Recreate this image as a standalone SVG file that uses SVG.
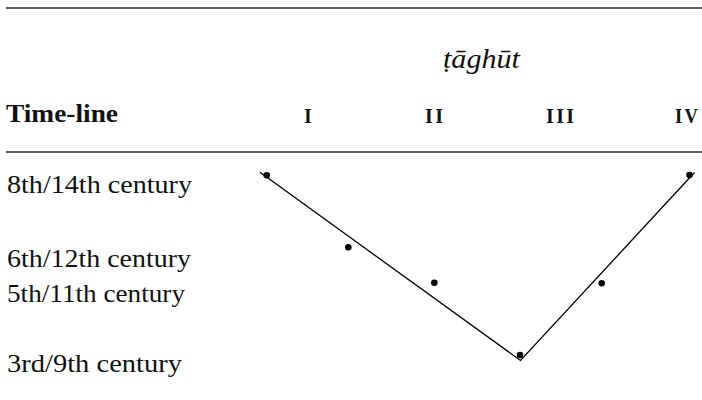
<svg xmlns="http://www.w3.org/2000/svg" width="702" height="400" viewBox="0 0 702 400">
  <style>
    .rule { stroke: #2a2a2a; stroke-width: 1.4; }
    .row { font-family: "Liberation Serif", "Times New Roman", serif; font-size: 26px; fill: #111; }
    .head { font-family: "Liberation Serif", "Times New Roman", serif; font-weight: bold; fill: #111; }
    .num { font-size: 20px; letter-spacing: 2.4px; }
    .title { font-family: "Liberation Serif", "Times New Roman", serif; font-style: italic; font-size: 27px; fill: #111; }
    .trend { fill: none; stroke: #000; stroke-width: 1.3; stroke-linejoin: miter; }
    .pt { fill: #000; }
  </style>

  <!-- table rules -->
  <line class="rule" x1="6" y1="8" x2="702" y2="8"/>
  <line class="rule" x1="6" y1="152" x2="702" y2="152"/>

  <!-- column headings -->
  <g id="header">
    <text class="title" x="443" y="68" textLength="77" lengthAdjust="spacingAndGlyphs">ṭāghūt</text>
    <text class="head" x="6" y="122" font-size="26" textLength="112" lengthAdjust="spacingAndGlyphs">Time-line</text>
    <text class="head num" x="304" y="122.5">I</text>
    <text class="head num" x="425" y="122.5">II</text>
    <text class="head num" x="546" y="122.5">III</text>
    <text class="head num" x="675" y="122.5" textLength="25" lengthAdjust="spacingAndGlyphs">IV</text>
  </g>

  <!-- time-line rows -->
  <g id="row-8th">
    <text class="row" x="7" y="193" textLength="185" lengthAdjust="spacingAndGlyphs">8th/14th century</text>
  </g>
  <g id="row-6th">
    <text class="row" x="7" y="267" textLength="184" lengthAdjust="spacingAndGlyphs">6th/12th century</text>
  </g>
  <g id="row-5th">
    <text class="row" x="7" y="302" textLength="178" lengthAdjust="spacingAndGlyphs">5th/11th century</text>
  </g>
  <g id="row-3rd">
    <text class="row" x="7" y="372" textLength="175" lengthAdjust="spacingAndGlyphs">3rd/9th century</text>
  </g>

  <!-- trend line -->
  <g id="connectors">
    <polyline class="trend" points="260,172.3 520.5,360.5 694.5,172.5"/>
  </g>

  <!-- data points -->
  <g id="points">
    <circle id="p1" class="pt" cx="266.7" cy="175.3" r="3.3"/>
    <circle id="p2" class="pt" cx="348.3" cy="247.3" r="3.3"/>
    <circle id="p3" class="pt" cx="434.3" cy="282.7" r="3.3"/>
    <circle id="p4" class="pt" cx="520" cy="355" r="3.3"/>
    <circle id="p5" class="pt" cx="601.7" cy="283.3" r="3.3"/>
    <circle id="p6" class="pt" cx="689.5" cy="175" r="3.3"/>
  </g>
</svg>
